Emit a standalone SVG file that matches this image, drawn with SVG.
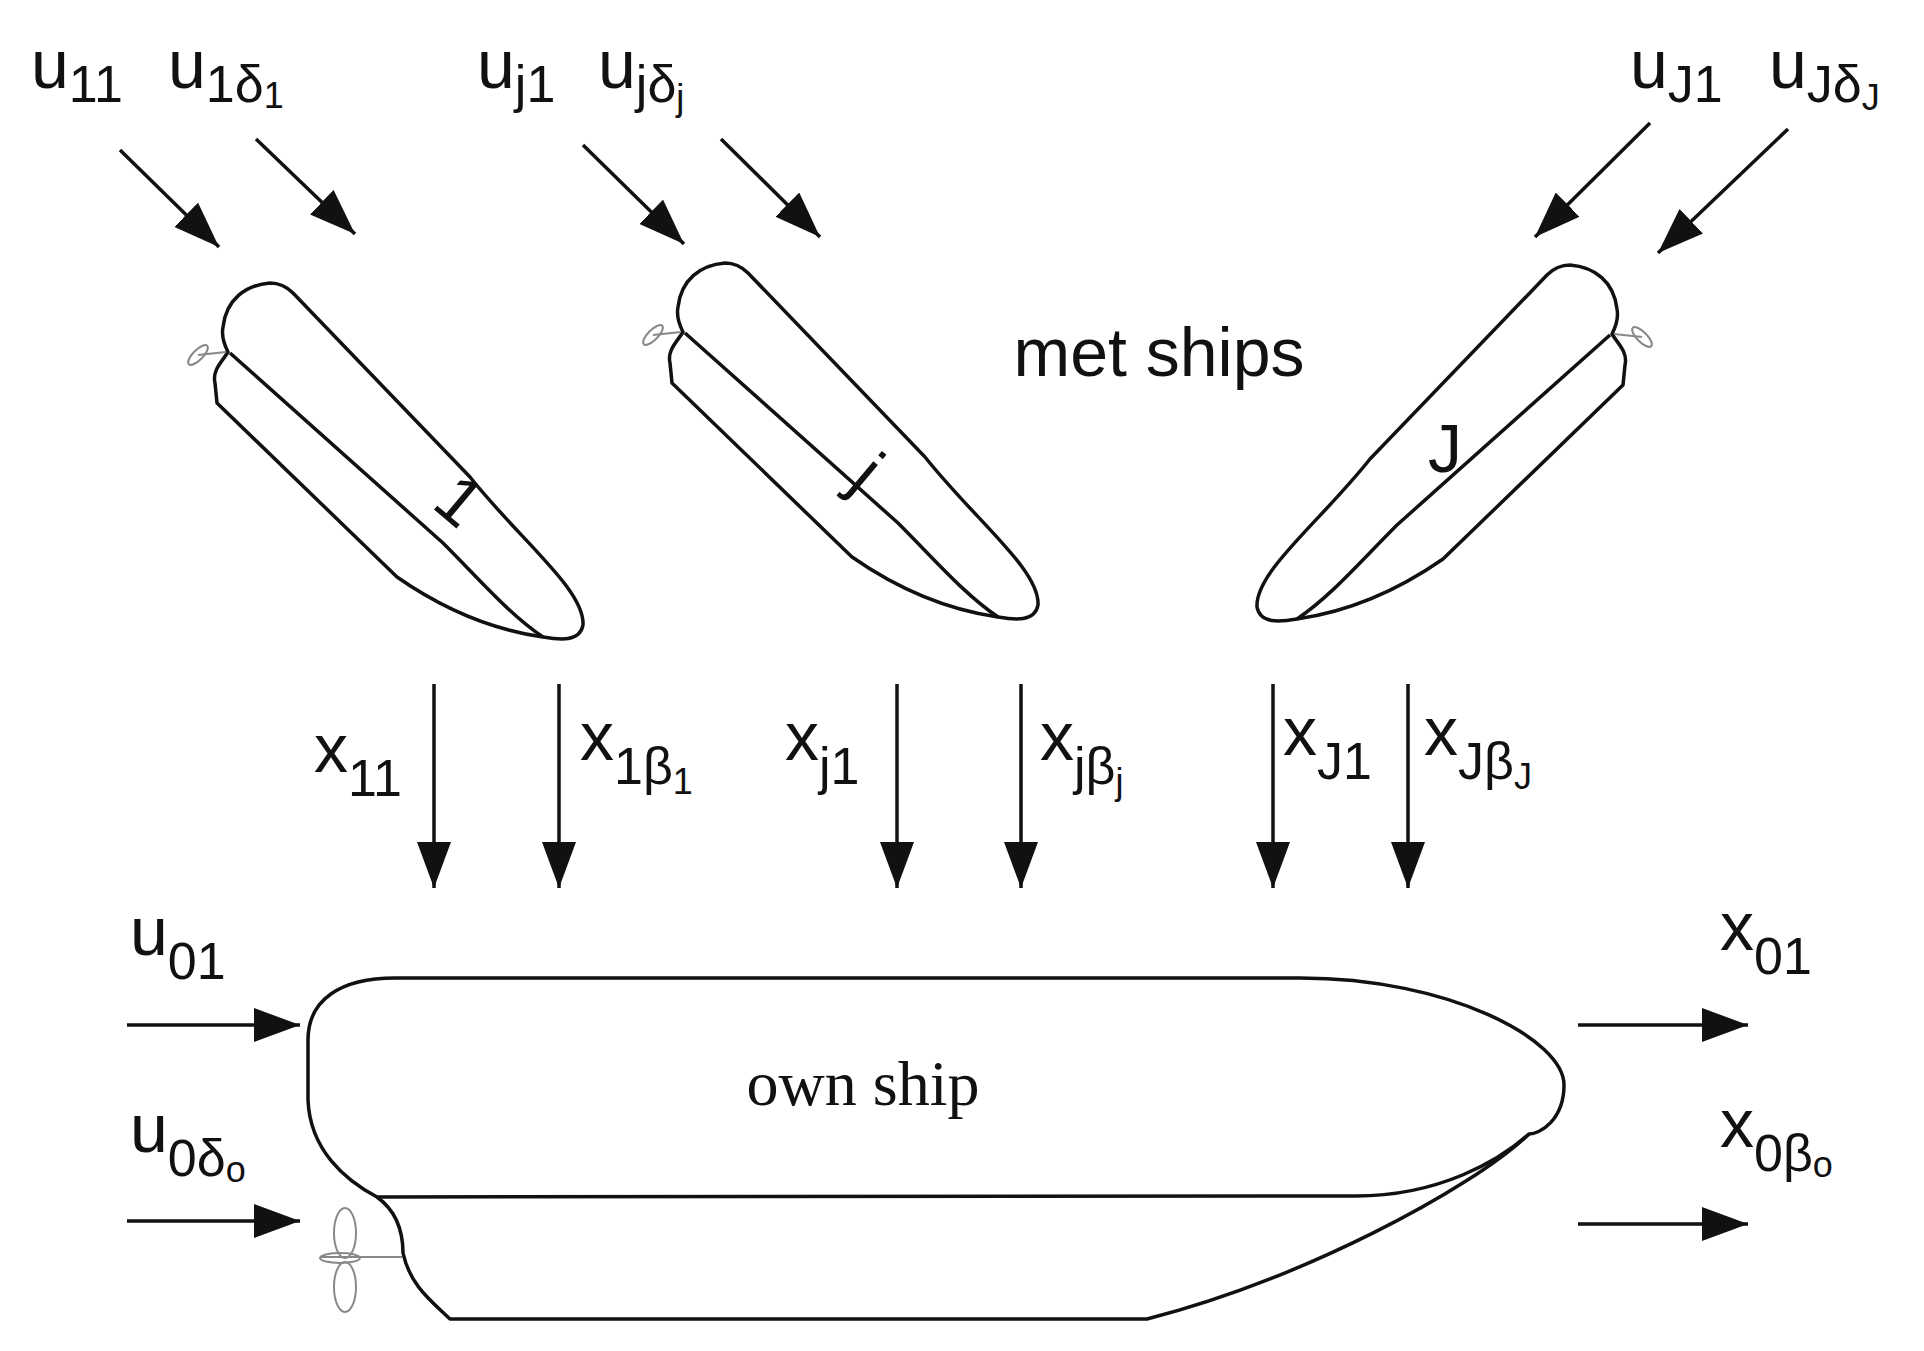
<svg xmlns="http://www.w3.org/2000/svg" width="1924" height="1351" viewBox="0 0 1924 1351">
<style>
.l{font-family:"Liberation Sans",Arial,sans-serif;font-size:68px;fill:#111}
.s{font-size:52px}
.ss{font-size:36px}
.hull{fill:none;stroke:#111;stroke-width:3.5;stroke-linejoin:round}
.prop{fill:none;stroke:#888;stroke-width:2}
.ar{stroke:#111;stroke-width:3.5;fill:none}
</style>
<defs>
<marker id="ah" markerUnits="userSpaceOnUse" markerWidth="50" markerHeight="34" refX="46" refY="17" orient="auto"><path d="M0,0 L46,17 L0,34 Z" fill="#111"/></marker>
<g id="ship">
<path class="hull" d="M293,293 L470,477 C520,540 585,590 583,625 C580,642 560,640 543,637 C480,628 430,600 397,577 L217,403 L215,383 C212,370 222,362 228,352 C222,340 222,332 223,327 C226,300 245,285 270,283 C280,283 288,288 293,293 Z"/>
<path class="hull" d="M230,353 L443,543 C480,580 510,615 543,637"/>
<ellipse class="prop" cx="198" cy="355" rx="13" ry="5" transform="rotate(-45 198 355)"/>
<line class="prop" x1="198" y1="355" x2="226" y2="352"/>
</g>
</defs>
<g id="ship1"><use href="#ship"/><text class="l" x="440" y="515" transform="rotate(40 447 497)" font-size="50">1</text></g>
<g id="shipj"><use href="#ship" transform="translate(455,-20)"/><text class="l" x="858" y="495" transform="rotate(40 865 475)" font-size="50">j</text></g>
<g id="shipJ"><use href="#ship" transform="translate(1840,-18) scale(-1,1)"/><text class="l" x="1428" y="472" font-size="52">J</text></g>
<g id="ownship">
<path class="hull" d="M395,978 L1300,978 C1450,978 1564,1040 1564,1085 C1564,1120 1540,1134 1529,1134 C1500,1160 1440,1196 1356,1196 L377,1197 C345,1180 310,1150 308,1100 L308,1040 C308,1000 340,978 395,978 Z"/>
<path class="hull" d="M377,1197 C395,1210 403,1230 403,1253 C410,1285 430,1300 450,1319 L1147,1319 C1300,1280 1470,1190 1529,1134"/>
<ellipse class="prop" cx="345" cy="1233" rx="11" ry="25"/>
<ellipse class="prop" cx="345" cy="1287" rx="11" ry="25"/>
<ellipse class="prop" cx="340" cy="1258" rx="20" ry="5"/>
<line class="prop" x1="320" y1="1257" x2="402" y2="1257"/>
<text x="863" y="1105" text-anchor="middle" font-family="'Liberation Serif',serif" font-size="64" fill="#111">own ship</text>
</g>
<text class="l" x="1159" y="376" text-anchor="middle" font-size="62">met ships</text>
<g id="connectors">
<path class="ar" marker-end="url(#ah)" d="M120,150 L219,247"/>
<path class="ar" marker-end="url(#ah)" d="M256,139 L355,234"/>
<path class="ar" marker-end="url(#ah)" d="M583,145 L684,244"/>
<path class="ar" marker-end="url(#ah)" d="M721,139 L820,237"/>
<path class="ar" marker-end="url(#ah)" d="M1650,123 L1535,237"/>
<path class="ar" marker-end="url(#ah)" d="M1788,129 L1658,253"/>
<path class="ar" marker-end="url(#ah)" d="M434,684 L434,888"/>
<path class="ar" marker-end="url(#ah)" d="M559,684 L559,888"/>
<path class="ar" marker-end="url(#ah)" d="M897,684 L897,888"/>
<path class="ar" marker-end="url(#ah)" d="M1021,684 L1021,888"/>
<path class="ar" marker-end="url(#ah)" d="M1273,684 L1273,888"/>
<path class="ar" marker-end="url(#ah)" d="M1408,684 L1408,888"/>
<path class="ar" marker-end="url(#ah)" d="M127,1025 L300,1025"/>
<path class="ar" marker-end="url(#ah)" d="M127,1221 L300,1221"/>
<path class="ar" marker-end="url(#ah)" d="M1578,1025 L1748,1025"/>
<path class="ar" marker-end="url(#ah)" d="M1578,1224 L1748,1224"/>
</g>
<g id="labels">
<text class="l" x="31" y="88">u<tspan class="s" dy="14">11</tspan></text>
<text class="l" x="168" y="88">u<tspan class="s" dy="14">1δ</tspan><tspan class="ss" dy="6">1</tspan></text>
<text class="l" x="477" y="88">u<tspan class="s" dy="14">j1</tspan></text>
<text class="l" x="598" y="88">u<tspan class="s" dy="14">jδ</tspan><tspan class="ss" dy="8">j</tspan></text>
<text class="l" x="1630" y="88">u<tspan class="s" dy="14">J1</tspan></text>
<text class="l" x="1769" y="88">u<tspan class="s" dy="14">Jδ</tspan><tspan class="ss" dy="8">J</tspan></text>
<text class="l" x="314" y="772">x<tspan class="s" dy="24">11</tspan></text>
<text class="l" x="580" y="760">x<tspan class="s" dy="24">1β</tspan><tspan class="ss" dy="10">1</tspan></text>
<text class="l" x="785" y="760">x<tspan class="s" dy="24">j1</tspan></text>
<text class="l" x="1040" y="760">x<tspan class="s" dy="24">jβ</tspan><tspan class="ss" dy="10">j</tspan></text>
<text class="l" x="1283" y="755">x<tspan class="s" dy="24">J1</tspan></text>
<text class="l" x="1424" y="755">x<tspan class="s" dy="24">Jβ</tspan><tspan class="ss" dy="10">J</tspan></text>
<text class="l" x="130" y="955">u<tspan class="s" dy="24">01</tspan></text>
<text class="l" x="130" y="1152">u<tspan class="s" dy="24">0δ</tspan><tspan class="ss" dy="6">o</tspan></text>
<text class="l" x="1720" y="950">x<tspan class="s" dy="24">01</tspan></text>
<text class="l" x="1720" y="1147">x<tspan class="s" dy="24">0β</tspan><tspan class="ss" dy="6">o</tspan></text>
</g>
</svg>
